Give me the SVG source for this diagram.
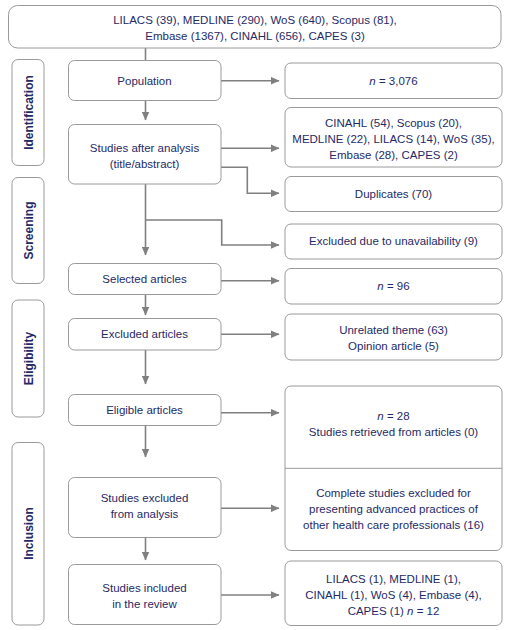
<svg xmlns="http://www.w3.org/2000/svg" width="511" height="630" viewBox="0 0 511 630">
<defs>
<marker id="ah" markerWidth="9" markerHeight="8" refX="8.5" refY="4" orient="auto" markerUnits="userSpaceOnUse">
<path d="M0,0 L9,4 L0,8 Z" fill="#808080"/>
</marker>
<style>
.box{fill:#fff;stroke:#9a9a9a;stroke-width:1}
.t{font-family:"Liberation Sans",Arial,sans-serif;font-size:11.5px;fill:#1f2a66;text-anchor:middle}
.side{font-family:"Liberation Sans",Arial,sans-serif;font-size:12px;font-weight:bold;fill:#1f2a66;text-anchor:middle}
.c{fill:none;stroke:#808080;stroke-width:1.6}
.ca{fill:none;stroke:#808080;stroke-width:1.6;marker-end:url(#ah)}
</style>
</defs>
<rect width="511" height="630" fill="#fff"/>

<g id="connectors">
<line class="c" x1="145.5" y1="48" x2="145.5" y2="61"/>
<line class="ca" x1="221" y1="80.7" x2="279" y2="80.7"/>
<line class="ca" x1="145.5" y1="101" x2="145.5" y2="120"/>
<line class="ca" x1="221" y1="148.3" x2="279" y2="148.3"/>
<polyline class="ca" points="221,167.3 247.3,167.3 247.3,193.3 279,193.3"/>
<line class="ca" x1="145.5" y1="184" x2="145.5" y2="255"/>
<polyline class="ca" points="145.5,220 221.7,220 221.7,245 279,245"/>
<line class="ca" x1="221" y1="280.7" x2="279" y2="280.7"/>
<line class="ca" x1="145.5" y1="294.3" x2="145.5" y2="315"/>
<line class="ca" x1="221" y1="334.3" x2="279" y2="334.3"/>
<line class="ca" x1="145.5" y1="350" x2="145.5" y2="384"/>
<line class="ca" x1="221" y1="412.7" x2="279" y2="412.7"/>
<line class="ca" x1="145.5" y1="425.7" x2="145.5" y2="457"/>
<line class="ca" x1="221" y1="508.3" x2="279" y2="508.3"/>
<line class="ca" x1="145.5" y1="537.3" x2="145.5" y2="560"/>
<line class="ca" x1="221" y1="595" x2="279" y2="595"/>
</g>

<g id="sources">
<rect class="box" x="8.5" y="5.5" width="492.5" height="42.5" rx="9"/>
<text class="t" x="255" y="24">LILACS (39), MEDLINE (290), WoS (640), Scopus (81),</text>
<text class="t" x="255" y="39.5">Embase (1367), CINAHL (656), CAPES (3)</text>
</g>

<g id="label-identification">
<rect class="box" x="12" y="59.5" width="32" height="106" rx="6"/>
<text class="side" transform="translate(32.5,112.5) rotate(-90)">Identification</text>
</g>
<g id="label-screening">
<rect class="box" x="12" y="177.5" width="32" height="106" rx="6"/>
<text class="side" transform="translate(32.5,230.5) rotate(-90)">Screening</text>
</g>
<g id="label-eligibility">
<rect class="box" x="12" y="300" width="32" height="117" rx="6"/>
<text class="side" transform="translate(32.5,358.5) rotate(-90)">Eligibility</text>
</g>
<g id="label-inclusion">
<rect class="box" x="12" y="442.5" width="32" height="182.5" rx="6"/>
<text class="side" transform="translate(32.5,533.5) rotate(-90)">Inclusion</text>
</g>

<g id="population">
<rect class="box" x="68.5" y="60.5" width="152.5" height="40" rx="6"/>
<text class="t" x="144.5" y="84.5">Population</text>
</g>
<g id="n3076">
<rect class="box" x="285" y="63" width="217" height="35.5" rx="6"/>
<text class="t" x="393.5" y="84.5"><tspan font-style="italic">n</tspan> = 3,076</text>
</g>

<g id="studies-after">
<rect class="box" x="68.5" y="124.5" width="152.5" height="59.5" rx="6"/>
<text class="t" x="144.5" y="151.5">Studies after analysis</text>
<text class="t" x="144.5" y="167.5">(title/abstract)</text>
</g>
<g id="db-after">
<rect class="box" x="285" y="107.5" width="217" height="59.5" rx="6"/>
<text class="t" x="393.5" y="126.5">CINAHL (54), Scopus (20),</text>
<text class="t" x="393.5" y="142.5">MEDLINE (22), LILACS (14), WoS (35),</text>
<text class="t" x="393.5" y="158.5">Embase (28), CAPES (2)</text>
</g>

<g id="duplicates">
<rect class="box" x="285" y="176.5" width="217" height="35" rx="6"/>
<text class="t" x="393.5" y="198">Duplicates (70)</text>
</g>
<g id="unavailable">
<rect class="box" x="285" y="224" width="217" height="35" rx="6"/>
<text class="t" x="393.5" y="245">Excluded due to unavailability (9)</text>
</g>

<g id="selected">
<rect class="box" x="68.5" y="263.5" width="152.5" height="31" rx="6"/>
<text class="t" x="144.5" y="282.5">Selected articles</text>
</g>
<g id="n96">
<rect class="box" x="285" y="268.5" width="217" height="35.5" rx="6"/>
<text class="t" x="393.5" y="290"><tspan font-style="italic">n</tspan> = 96</text>
</g>

<g id="excluded">
<rect class="box" x="68.5" y="318.5" width="152.5" height="31.5" rx="6"/>
<text class="t" x="144.5" y="337.5">Excluded articles</text>
</g>
<g id="excluded-reasons">
<rect class="box" x="285" y="314" width="217" height="46" rx="6"/>
<text class="t" x="393.5" y="334">Unrelated theme (63)</text>
<text class="t" x="393.5" y="349.5">Opinion article (5)</text>
</g>

<g id="eligible">
<rect class="box" x="68.5" y="394.5" width="152.5" height="31" rx="6"/>
<text class="t" x="144.5" y="414">Eligible articles</text>
</g>
<g id="eligible-details">
<rect class="box" x="285" y="386" width="217" height="164.5" rx="6"/>
<line x1="285" y1="468.3" x2="502" y2="468.3" stroke="#9a9a9a" stroke-width="1"/>
<text class="t" x="393.5" y="420"><tspan font-style="italic">n</tspan> = 28</text>
<text class="t" x="393.5" y="436">Studies retrieved from articles (0)</text>
<text class="t" x="393.5" y="497">Complete studies excluded for</text>
<text class="t" x="393.5" y="513">presenting advanced practices of</text>
<text class="t" x="393.5" y="528.5">other health care professionals (16)</text>
</g>

<g id="studies-excluded">
<rect class="box" x="68.5" y="477.5" width="152.5" height="60" rx="6"/>
<text class="t" x="144.5" y="501.5">Studies excluded</text>
<text class="t" x="144.5" y="517.5">from analysis</text>
</g>

<g id="studies-included">
<rect class="box" x="68.5" y="564.5" width="152.5" height="60" rx="6"/>
<text class="t" x="144.5" y="591.5">Studies included</text>
<text class="t" x="144.5" y="607.5">in the review</text>
</g>
<g id="included-details">
<rect class="box" x="285" y="561" width="217" height="64.5" rx="6"/>
<text class="t" x="393.5" y="582.5">LILACS (1), MEDLINE (1),</text>
<text class="t" x="393.5" y="599">CINAHL (1), WoS (4), Embase (4),</text>
<text class="t" x="393.5" y="615">CAPES (1) <tspan font-style="italic">n</tspan> = 12</text>
</g>
</svg>
